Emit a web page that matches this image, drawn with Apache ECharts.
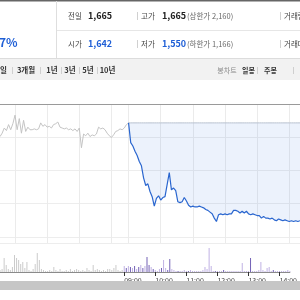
<!DOCTYPE html>
<html><head><meta charset="utf-8">
<script src="https://cdn.jsdelivr.net/npm/echarts@6/dist/echarts.min.js"></script>
<style>html,body{margin:0;padding:0;background:#fff}#c{width:300px;height:300px}</style>
</head><body><div id="c"></div>
<script>
// ---- values ----
const prevClose = 1665;
const openPrice = 1642;
const highPrice = 1665;
const lowPrice = 1550;
const upperLimit = 2160;
const lowerLimit = 1166;

// previous session, 4-minute points 11:32 .. 15:28
const prevPrice = [1649,1653,1659,1656,1663,1657,1664,1674,1657,1670,
  1653,1668,1655,1660,1657,1657,1658,1657,1658,1665,
  1661,1663,1660,1661,1659,1663,1664,1666,1660,1659,
  1658,1659,1657,1658,1656,1658,1655,1659,1636,1652,
  1650,1653,1649,1651,1650,1652,1660,1658,1659,1657,
  1653,1650,1648,1651,1655,1656,1658,1657,1659,1663];
// today, 4-minute points 09:00 .. 14:20
const todayPrice = [1665,1642,1638,1632,1627,1620,1615,1601,1592,1594,
  1585,1579,1568,1577,1580,1575,1578,1579,1593,1607,
  1587,1589,1586,1573,1572,1573,1578,1574,1569,1567,
  1568,1567,1567,1568,1567,1566,1564,1563,1561,1559,
  1554,1550,1558,1559,1558,1559,1558,1559,1559,1563,
  1563,1562,1560,1562,1560,1562,1559,1558,1559,1558,
  1557,1557,1554,1556,1554,1554,1553,1554,1552,1551,
  1553,1552,1551,1552,1551,1550,1551,1550,1551,1550,1551];
// volume (thousand shares)
const prevVolume = [2,3,14,7,3,2,5,17,14,12, 8,10,4,10,2,1,3,8,19,12,
  3,2,1,1,2,1,5,2,1,3, 1,1,2,1,3,1,2,3,2,1,
  2,1,4,2,1,7,2,3,2,1, 2,1,3,3,2,4,7,2,1,2];
const todayVolumeLight = [6,0,6,0,4,0,3,0,7,0, 6,0,0,5,0,2,1,3,0,12,
  4,0,0,3,2,1,0,1,1,2, 1,0,2,1,1,1,1,1,2,5,
  3,24,6,1,0,1,1,1,0,1, 1,1,1,1,1,1,1,9,1,1,
  1,0,1,1,1,2,10,2,1,4, 5,1,0,1,1,1,1,1,1,2,1];
const todayVolumeDark = [0,4,0,5,0,6,0,5,0,4, 0,15,7,0,3,0,0,0,4,0,
  0,2,13,0,0,0,1,0,0,0, 0,1,0,0,0,0,0,0,0,0,
  0,0,0,0,1,0,0,0,2,0, 0,0,0,0,0,0,0,0,0,0,
  0,14,0,0,0,0,0,0,0,0, 0,0,2,0,0,0,0,0,0,0,0];

const tickLabels = ['09:00','10:00','11:00','12:00','13:00','14:00'];
const prevHourLabels = ['전일 12:00','전일 13:00','전일 14:00','전일 15:00'];
const periodTabs = ['5일','3개월','1년','3년','5년','10년'];

// ---- categories (time slots) ----
function hm(m){const h=Math.floor(m/60),mm=m%60;return (h<10?'0':'')+h+':'+(mm<10?'0':'')+mm;}
const categories = [];
for (let m = 11*60+32; m <= 15*60+28; m += 4) categories.push('전일 ' + hm(m));
for (let m = 9*60; m <= 14*60+20; m += 4) categories.push(hm(m));
const nPrev = prevPrice.length;
const nulls = n => new Array(n).fill(null);

const prevSeries = prevPrice.concat([prevClose], nulls(categories.length - nPrev - 1));
const todaySeries = nulls(nPrev).concat(todayPrice);
const gapSeries = nulls(nPrev).concat(todayPrice.map(v => prevClose - v));
const prevVolSeries = prevVolume.concat(nulls(categories.length - nPrev));
const lightVolSeries = nulls(nPrev).concat(todayVolumeLight);
const darkVolSeries = nulls(nPrev).concat(todayVolumeDark);

const tickSet = new Set(tickLabels);
const gridSet = new Set(tickLabels.concat(prevHourLabels));
const fmt = n => n.toLocaleString('en-US');

const FF = '"Noto Sans CJK KR", "Noto Sans", sans-serif';
function T(text, x, y, size, color, opt) {
  opt = opt || {};
  const align = opt.align || 'left';
  return {type:'text', x:x, y:y, z:100, silent:true, style:{text:text, fill:color,
    font:(opt.bold?'bold ':'')+size+'px '+FF,
    align:align, verticalAlign:'middle', textAlign:align, textVerticalAlign:'middle'}};
}
function VL(x, y1, y2, color) {
  return {type:'line', z:99, silent:true, shape:{x1:x,y1:y1,x2:x,y2:y2}, style:{stroke:color, lineWidth:1}};
}
const blue = '#1f5fd6';
const graphic = [
  {type:'rect', z:98, shape:{x:0,y:58,width:300,height:22}, style:{fill:'#f2f2f2'}},
  {type:'line', z:99, shape:{x1:0,y1:58.5,x2:300,y2:58.5}, style:{stroke:'#dcdcdc',lineWidth:1}},
  {type:'rect', z:99, shape:{x:0,y:0,width:300,height:1.5}, style:{fill:'#666'}},
  VL(56.5, 1, 58, '#dedede'),
  {type:'line', z:99, shape:{x1:57,y1:30.5,x2:300,y2:30.5}, style:{stroke:'#e6e6e6',lineWidth:1}},
  T('7%', -1, 42, 12, blue, {bold:true}),
  T('전일', 75, 16, 7.5, '#444', {align:'center'}),
  T(fmt(prevClose), 88, 16, 9, '#222', {bold:true}),
  VL(137.5, 12, 20, '#d0d0d0'),
  T('고가', 148, 16, 7.5, '#444', {align:'center'}),
  T(fmt(highPrice), 162, 16, 9, '#222', {bold:true}),
  T('(상한가 ' + fmt(upperLimit) + ')', 187, 16, 7.5, '#666'),
  VL(280.5, 12, 20, '#d0d0d0'),
  T('거래량', 284, 16, 7.5, '#444'),
  T('시가', 75, 44, 7.5, '#444', {align:'center'}),
  T(fmt(openPrice), 88, 44, 9, blue, {bold:true}),
  VL(137.5, 40, 48, '#d0d0d0'),
  T('저가', 148, 44, 7.5, '#444', {align:'center'}),
  T(fmt(lowPrice), 162, 44, 9, blue, {bold:true}),
  T('(하한가 ' + fmt(lowerLimit) + ')', 187, 44, 7.5, '#666'),
  VL(280.5, 40, 48, '#d0d0d0'),
  T('거래대금', 284, 44, 7.5, '#444'),
  // period tabs
  T(periodTabs[0], 7, 70, 7.5, '#333', {bold:true, align:'right'}),
  VL(12.5, 67, 74, '#cfcfcf'),
  T(periodTabs[1], 26, 70, 7.5, '#333', {bold:true, align:'center'}),
  VL(40.5, 67, 74, '#cfcfcf'),
  T(periodTabs[2], 52, 70, 7.5, '#333', {bold:true, align:'center'}),
  VL(61.5, 67, 74, '#cfcfcf'),
  T(periodTabs[3], 70, 70, 7.5, '#333', {bold:true, align:'center'}),
  VL(79.5, 67, 74, '#cfcfcf'),
  T(periodTabs[4], 88, 70, 7.5, '#333', {bold:true, align:'center'}),
  VL(97.5, 67, 74, '#cfcfcf'),
  T(periodTabs[5], 107.5, 70, 7.5, '#333', {bold:true, align:'center'}),
  T('봉차트', 227, 70, 7, '#8a8a8a', {align:'center'}),
  T('일봉', 248.5, 70, 7, '#333', {bold:true, align:'center'}),
  VL(257.5, 67, 74, '#cfcfcf'),
  T('주봉', 270.5, 70, 7, '#333', {bold:true, align:'center'}),
  VL(293.5, 67, 74, '#cfcfcf'),
  // scroll bar
  {type:'rect', z:100, shape:{x:0,y:281,width:300,height:9}, style:{fill:'#c6c6c6'}}
];

const chart = echarts.init(document.getElementById('c'), null, {renderer:'canvas'});
chart.setOption({
  animation:false,
  backgroundColor:'#fff',
  graphic: graphic,
  grid:[{left:0,right:0,top:104,height:139},{left:0,right:0,top:245,height:27}],
  xAxis:[
    {gridIndex:0,type:'category',data:categories,boundaryGap:false,
     axisLine:{show:true,lineStyle:{color:'#9a9a9a',width:1}},axisTick:{show:false},axisLabel:{show:false},
     splitLine:{show:true,interval:(i,v)=>gridSet.has(v),lineStyle:{color:'#ebebeb',width:1}}},
    {gridIndex:1,type:'category',data:categories,boundaryGap:false,
     axisLine:{show:true,lineStyle:{color:'#8a8a8a',width:1}},
     axisTick:{show:true,interval:(i,v)=>tickSet.has(v),length:4,lineStyle:{color:'#333'}},
     axisLabel:{show:true,interval:(i,v)=>tickSet.has(v),align:'left',fontSize:7,color:'#444',margin:5,fontFamily:FF},
     splitLine:{show:false}}
  ],
  yAxis:[
    {gridIndex:0,type:'value',min:1525,max:1687,axisLine:{show:false},axisTick:{show:false},axisLabel:{show:false},splitLine:{show:false}},
    {gridIndex:0,type:'value',inverse:true,min:0,max:162,interval:38.75,axisLine:{show:false},axisTick:{show:false},axisLabel:{show:false},
     splitLine:{show:true,lineStyle:{color:'#ededed',width:1}}},
    {gridIndex:1,type:'value',min:0,max:27,show:false}
  ],
  series:[
    {type:'line',xAxisIndex:0,yAxisIndex:0,data:prevSeries,symbol:'none',z:3,
     lineStyle:{color:'#c4c4c4',width:1}},
    {type:'line',xAxisIndex:0,yAxisIndex:0,data:todaySeries,stack:'gap',symbol:'none',z:2,
     lineStyle:{opacity:0}},
    {type:'line',xAxisIndex:0,yAxisIndex:0,data:gapSeries,stack:'gap',symbol:'none',z:2,
     lineStyle:{color:'#b7c0cf',width:1},areaStyle:{color:'rgba(66,120,220,0.14)'}},
    {type:'line',xAxisIndex:0,yAxisIndex:0,data:todaySeries,symbol:'none',z:4,
     lineStyle:{color:'#2a66cf',width:1.2}},
    {type:'bar',xAxisIndex:1,yAxisIndex:2,data:prevVolSeries,barWidth:1,barGap:'-100%',itemStyle:{color:'#cbcbcb'}},
    {type:'bar',xAxisIndex:1,yAxisIndex:2,data:lightVolSeries,barWidth:1,barGap:'-100%',itemStyle:{color:'#c0b2e4'}},
    {type:'bar',xAxisIndex:1,yAxisIndex:2,data:darkVolSeries,barWidth:1,barGap:'-100%',itemStyle:{color:'#7462b6'}}
  ]
});
</script>
</body></html>
